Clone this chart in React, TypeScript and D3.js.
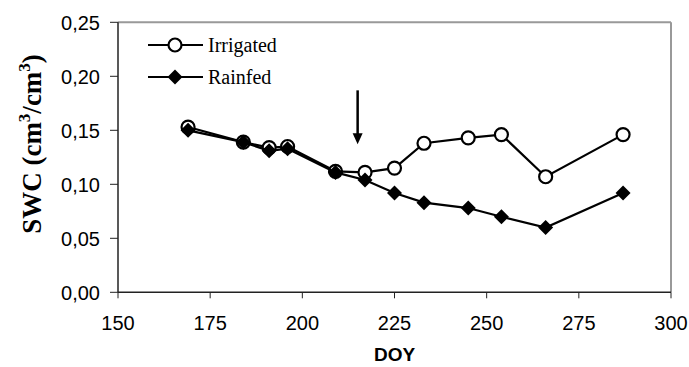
import React from "react";
import * as d3 from "d3";

const doy = [169, 184, 191, 196, 209, 217, 225, 233, 245, 254, 266, 287];
const irrigated = [0.153, 0.139, 0.134, 0.135, 0.112, 0.111, 0.115, 0.138, 0.143, 0.146, 0.107, 0.146];
const rainfed = [0.150, 0.139, 0.131, 0.133, 0.111, 0.104, 0.092, 0.083, 0.078, 0.070, 0.060, 0.092];
const xTicks = [150, 175, 200, 225, 250, 275, 300];
const yTicks = [0, 0.05, 0.1, 0.15, 0.2, 0.25];
const arrowDoy = 215;
const arrowFrom = 0.187;
const arrowTo = 0.137;

const W = 689, H = 367;
const L = 118, R = 671, T = 22.3, B = 292.3;

export default function App() {
  const x = d3.scaleLinear().domain([150, 300]).range([L, R]);
  const y = d3.scaleLinear().domain([0, 0.25]).range([B, T]);
  const line = d3.line<[number, number]>().x(d => x(d[0])).y(d => y(d[1]));
  const irr: [number, number][] = doy.map((d, i) => [d, irrigated[i]]);
  const rf: [number, number][] = doy.map((d, i) => [d, rainfed[i]]);
  const fmt = (v: number) => v.toFixed(2).replace(".", ",");
  const diamond = (cx: number, cy: number, s: number) =>
    `M${cx},${cy - s}L${cx + s},${cy}L${cx},${cy + s}L${cx - s},${cy}Z`;
  const sans = "'Liberation Sans', Arial, sans-serif";
  const serif = "'Liberation Serif', 'Times New Roman', serif";
  const ax = x(arrowDoy);
  return (
    <div style={{ position: "absolute", left: 0, top: 0 }}>
      <svg width={W} height={H} style={{ display: "block", background: "#fff" }}>
        {/* frame */}
        <line x1={L} y1={T} x2={R} y2={T} stroke="#999" strokeWidth={2} />
        <line x1={R} y1={T} x2={R} y2={B} stroke="#999" strokeWidth={2} />
        <line x1={L} y1={T} x2={L} y2={B} stroke="#222" strokeWidth={1.5} />
        <line x1={L} y1={B} x2={R} y2={B} stroke="#222" strokeWidth={1.5} />
        {/* y ticks */}
        {yTicks.map(t => (
          <g key={"y" + t}>
            <line x1={L - 8} x2={L} y1={y(t)} y2={y(t)} stroke="#222" strokeWidth={1} />
            <text x={100} y={y(t)} dy="0.36em" textAnchor="end" fontFamily={sans} fontSize={20} fill="#000">
              {fmt(t)}
            </text>
          </g>
        ))}
        {/* x ticks */}
        {xTicks.map(t => (
          <g key={"x" + t}>
            <line x1={x(t)} x2={x(t)} y1={B} y2={B + 6} stroke="#222" strokeWidth={1} />
            <text x={x(t)} y={323} dy="0.36em" textAnchor="middle" fontFamily={sans} fontSize={20} fill="#000">
              {t}
            </text>
          </g>
        ))}
        <text x={(L + R) / 2} y={354} dy="0.36em" textAnchor="middle" fontFamily={sans} fontSize={19} fontWeight="bold" fill="#000">
          DOY
        </text>
        <text transform={`translate(41,144) rotate(-90)`} textAnchor="middle" fontFamily={serif} fontSize={27} fontWeight="bold" fill="#000">
          SWC (cm
          <tspan dy={-11} fontSize={17}>3</tspan>
          <tspan dy={11}>/cm</tspan>
          <tspan dy={-11} fontSize={17}>3</tspan>
          <tspan dy={11}>)</tspan>
        </text>
        {/* arrow */}
        <line x1={ax} x2={ax} y1={y(arrowFrom)} y2={y(arrowTo) - 10} stroke="#000" strokeWidth={2.5} />
        <path d={`M${ax - 5},${y(arrowTo) - 11}L${ax + 5},${y(arrowTo) - 11}L${ax},${y(arrowTo)}Z`} fill="#000" />
        {/* irrigated */}
        <path d={line(irr) || ""} fill="none" stroke="#000" strokeWidth={2.2} />
        {irr.map((d, i) => (
          <circle key={"c" + i} cx={x(d[0])} cy={y(d[1])} r={6.5} fill="#fff" stroke="#000" strokeWidth={2.2} />
        ))}
        {/* rainfed */}
        <path d={line(rf) || ""} fill="none" stroke="#000" strokeWidth={2.2} />
        {rf.map((d, i) => (
          <path key={"d" + i} d={diamond(x(d[0]), y(d[1]), 7.5)} fill="#000" />
        ))}
        {/* legend */}
        <line x1={148} x2={203} y1={45} y2={45} stroke="#000" strokeWidth={2.2} />
        <circle cx={175} cy={45} r={6.5} fill="#fff" stroke="#000" strokeWidth={2.2} />
        <text x={208} y={45} dy="0.35em" fontFamily={serif} fontSize={20} fill="#000">Irrigated</text>
        <line x1={148} x2={203} y1={77} y2={77} stroke="#000" strokeWidth={2.2} />
        <path d={diamond(175, 77, 7.5)} fill="#000" />
        <text x={208} y={77} dy="0.35em" fontFamily={serif} fontSize={20} fill="#000">Rainfed</text>
      </svg>
    </div>
  );
}
